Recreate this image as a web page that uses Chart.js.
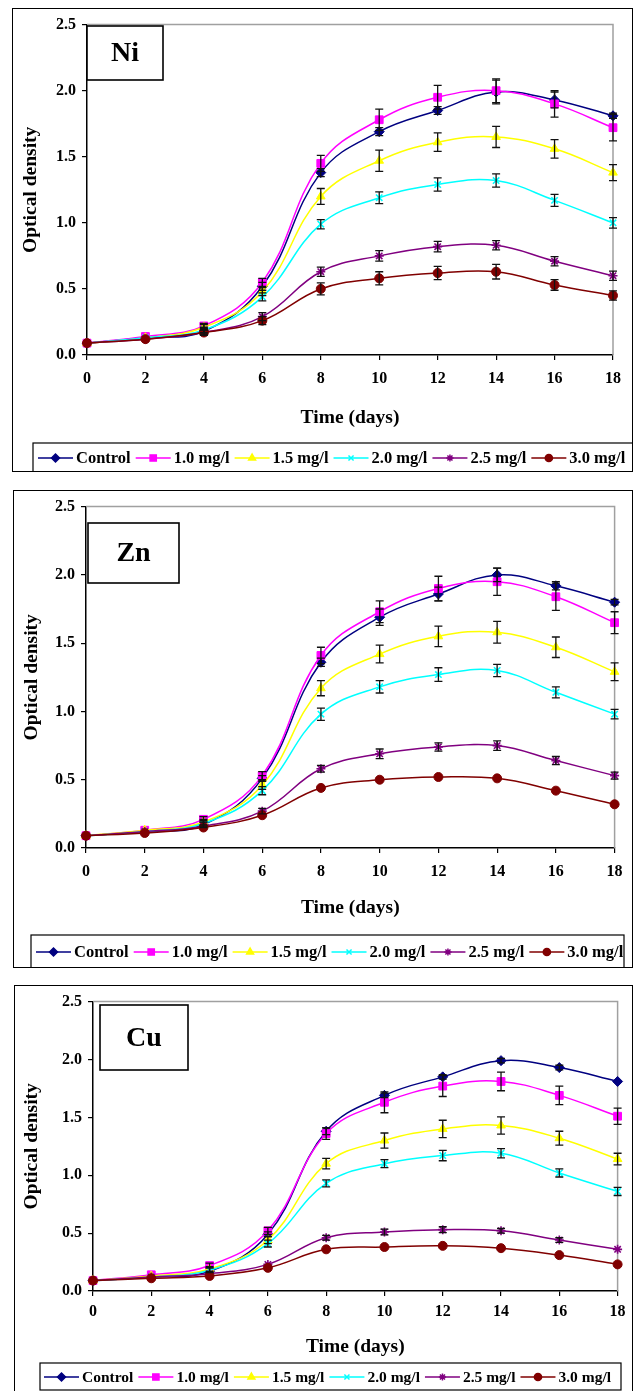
<!DOCTYPE html>
<html>
<head>
<meta charset="utf-8">
<script src="https://cdn.jsdelivr.net/npm/chart.js@4.4.1/dist/chart.umd.min.js"></script>
<style>
    body { margin: 0; background: #fff; width: 633px; height: 1391px; position: relative; overflow: hidden; }
    .panel { position: absolute; border: 1px solid #000; box-sizing: border-box; background: #fff; overflow: hidden; }
    .panel canvas { position: absolute; left: 0; top: 0; }
</style>
</head>
<body>
<div class="panel" id="p-ni"><canvas id="c-ni"></canvas></div>
<div class="panel" id="p-zn"><canvas id="c-zn"></canvas></div>
<div class="panel" id="p-cu"><canvas id="c-cu"></canvas></div>
<script>
// sampling days and series names
const days = [0, 2, 4, 6, 8, 10, 12, 14, 16, 18];
const seriesNames = ['Control', '1.0 mg/l', '1.5 mg/l', '2.0 mg/l', '2.5 mg/l', '3.0 mg/l'];

// Ni
const niControl = [0.09, 0.13, 0.18, 0.52, 1.38, 1.69, 1.85, 1.99, 1.93, 1.81];
const ni10 = [0.09, 0.14, 0.22, 0.55, 1.45, 1.78, 1.95, 2.00, 1.90, 1.72];
const ni15 = [0.09, 0.13, 0.21, 0.48, 1.20, 1.47, 1.61, 1.65, 1.56, 1.38];
const ni20 = [0.09, 0.13, 0.19, 0.44, 0.99, 1.19, 1.29, 1.32, 1.17, 1.00];
const ni25 = [0.09, 0.12, 0.17, 0.29, 0.63, 0.75, 0.82, 0.83, 0.71, 0.60];
const ni30 = [0.09, 0.12, 0.17, 0.26, 0.50, 0.58, 0.62, 0.63, 0.53, 0.45];
const niControlErr = [0.01, 0.01, 0.02, 0.03, 0.03, 0.03, 0.03, 0.09, 0.06, 0.02];
const ni10Err = [0.01, 0.01, 0.02, 0.03, 0.06, 0.08, 0.09, 0.09, 0.10, 0.10];
const ni15Err = [0.01, 0.01, 0.02, 0.03, 0.06, 0.08, 0.07, 0.08, 0.07, 0.06];
const ni20Err = [0.01, 0.01, 0.02, 0.03, 0.035, 0.045, 0.05, 0.05, 0.045, 0.04];
const ni25Err = [0.01, 0.01, 0.02, 0.03, 0.035, 0.04, 0.04, 0.035, 0.035, 0.035];
const ni30Err = [0.01, 0.01, 0.02, 0.03, 0.045, 0.05, 0.05, 0.055, 0.04, 0.035];

// Zn
const znControl = [0.09, 0.12, 0.17, 0.51, 1.36, 1.69, 1.86, 2.00, 1.92, 1.80];
const zn10 = [0.09, 0.13, 0.21, 0.53, 1.41, 1.73, 1.90, 1.95, 1.84, 1.65];
const zn15 = [0.09, 0.13, 0.19, 0.46, 1.17, 1.42, 1.55, 1.58, 1.47, 1.29];
const zn20 = [0.09, 0.12, 0.18, 0.42, 0.98, 1.18, 1.27, 1.30, 1.14, 0.98];
const zn25 = [0.09, 0.12, 0.16, 0.27, 0.58, 0.69, 0.74, 0.75, 0.64, 0.53];
const zn30 = [0.09, 0.11, 0.15, 0.24, 0.44, 0.50, 0.52, 0.51, 0.42, 0.32];
const znControlErr = [0.01, 0.01, 0.02, 0.02, 0.03, 0.06, 0.05, 0.05, 0.03, 0.02];
const zn10Err = [0.01, 0.01, 0.02, 0.03, 0.06, 0.08, 0.09, 0.10, 0.10, 0.08];
const zn15Err = [0.01, 0.01, 0.02, 0.03, 0.055, 0.065, 0.075, 0.08, 0.075, 0.065];
const zn20Err = [0.01, 0.01, 0.02, 0.03, 0.045, 0.045, 0.05, 0.045, 0.04, 0.035];
const zn25Err = [0.01, 0.01, 0.01, 0.02, 0.025, 0.035, 0.03, 0.035, 0.03, 0.025];
const zn30Err = [0.005, 0.005, 0.005, 0.01, 0.01, 0.01, 0.01, 0.01, 0.01, 0.01];

// Cu
const cuControl = [0.09, 0.12, 0.17, 0.49, 1.38, 1.69, 1.85, 1.99, 1.93, 1.81];
const cu10 = [0.09, 0.14, 0.22, 0.52, 1.36, 1.63, 1.77, 1.81, 1.69, 1.51];
const cu15 = [0.09, 0.13, 0.19, 0.44, 1.10, 1.30, 1.40, 1.43, 1.32, 1.14];
const cu20 = [0.09, 0.12, 0.18, 0.41, 0.93, 1.10, 1.17, 1.19, 1.02, 0.86];
const cu25 = [0.09, 0.12, 0.15, 0.23, 0.46, 0.51, 0.53, 0.52, 0.44, 0.36];
const cu30 = [0.09, 0.11, 0.13, 0.20, 0.36, 0.38, 0.39, 0.37, 0.31, 0.23];
const cuControlErr = [0.01, 0.01, 0.01, 0.02, 0.03, 0.02, 0.02, 0.02, 0.02, 0.01];
const cu10Err = [0.01, 0.01, 0.02, 0.03, 0.05, 0.09, 0.09, 0.08, 0.08, 0.07];
const cu15Err = [0.01, 0.01, 0.02, 0.03, 0.045, 0.065, 0.075, 0.075, 0.06, 0.05];
const cu20Err = [0.01, 0.01, 0.02, 0.03, 0.03, 0.035, 0.045, 0.04, 0.035, 0.035];
const cu25Err = [0.01, 0.01, 0.01, 0.015, 0.02, 0.025, 0.025, 0.02, 0.02, 0.01];
const cu30Err = [0.005, 0.005, 0.005, 0.01, 0.01, 0.01, 0.01, 0.01, 0.01, 0.01];

// styles
const colors = ['#000080', '#ff00ff', '#ffff00', '#00ffff', '#800080', '#800000'];
const markers = ['rectRot', 'rect', 'triangle', 'crossRot', 'star', 'circle'];
const markerSizes = [5, 5.5, 5, 4.5, 4.5, 4.5];
const FONT = "'Liberation Serif', 'Times New Roman', serif";
const TITLE_SIZE = 19.5;
const TICK_SIZE = 16;

// page layout of the three boxes (page pixels)
const panels = [
    {
        id: 'ni', metal: 'Ni',
        series: [niControl, ni10, ni15, ni20, ni25, ni30],
        errors: [niControlErr, ni10Err, ni15Err, ni20Err, ni25Err, ni30Err],
        box: { l: 12, t: 8, r: 632, b: 471 },
        plot: { l: 87, t: 23, r: 613, b: 355 },
        yTitleX: 31, xTitleY: 418, xLabelY: 379,
        tag: { l: 87, t: 26, r: 163, b: 80 },
        legend: { l: 33, t: 443, r: 640, b: 480, y: 458, x: 38, size: 16.5 }
    },
    {
        id: 'zn', metal: 'Zn',
        series: [znControl, zn10, zn15, zn20, zn25, zn30],
        errors: [znControlErr, zn10Err, zn15Err, zn20Err, zn25Err, zn30Err],
        box: { l: 13, t: 490, r: 632, b: 967 },
        plot: { l: 86, t: 504, r: 619, b: 848 },
        yTitleX: 32, xTitleY: 908, xLabelY: 872,
        tag: { l: 88, t: 523, r: 179, b: 583 },
        legend: { l: 31, t: 935, r: 624, b: 980, y: 952, x: 36, size: 16.5 }
    },
    {
        id: 'cu', metal: 'Cu',
        series: [cuControl, cu10, cu15, cu20, cu25, cu30],
        errors: [cuControlErr, cu10Err, cu15Err, cu20Err, cu25Err, cu30Err],
        box: { l: 14, t: 985, r: 632, b: 1391 },
        plot: { l: 93, t: 998, r: 618, b: 1291 },
        yTitleX: 32, xTitleY: 1347, xLabelY: 1312,
        tag: { l: 100, t: 1005, r: 188, b: 1070 },
        legend: { l: 40, t: 1363, r: 621, b: 1390, y: 1377, x: 44, size: 15.5 }
    }
];

const errorBars = {
    id: 'errorBars',
    afterDatasetsDraw(chart) {
        const ctx = chart.ctx;
        const xs = chart.scales.x, ys = chart.scales.y;
        ctx.save();
        ctx.strokeStyle = '#111';
        ctx.lineWidth = 1.3;
        chart.data.datasets.forEach(ds => {
            ds.data.forEach((p, i) => {
                const e = ds.errors[i];
                const x = xs.getPixelForValue(p.x);
                const yTop = ys.getPixelForValue(p.y + e);
                const yBot = ys.getPixelForValue(p.y - e);
                if (yBot - yTop < 4) return;
                ctx.beginPath();
                ctx.moveTo(x, yTop); ctx.lineTo(x, yBot);
                ctx.moveTo(x - 4, yTop); ctx.lineTo(x + 4, yTop);
                ctx.moveTo(x - 4, yBot); ctx.lineTo(x + 4, yBot);
                ctx.stroke();
            });
        });
        ctx.restore();
    }
};

const frame = {
    id: 'frame',
    beforeDatasetsDraw(chart) {
        const { left, top, right, bottom } = chart.chartArea;
        const ctx = chart.ctx;
        ctx.save();
        ctx.strokeStyle = '#a0a0a0';
        ctx.lineWidth = 1.5;
        ctx.beginPath();
        ctx.moveTo(left, top); ctx.lineTo(right, top); ctx.lineTo(right, bottom);
        ctx.stroke();
        ctx.restore();
    },
    afterDraw(chart, args, opts) {
        const ctx = chart.ctx;
        const off = opts.offset;
        ctx.save();

        // metal tag
        const t = opts.tag;
        ctx.fillStyle = '#fff';
        ctx.strokeStyle = '#000';
        ctx.lineWidth = 1.6;
        ctx.fillRect(t.l - off.x, t.t - off.y, t.r - t.l, t.b - t.t);
        ctx.strokeRect(t.l - off.x, t.t - off.y, t.r - t.l, t.b - t.t);
        ctx.fillStyle = '#000';
        ctx.font = 'bold 28px ' + FONT;
        ctx.textAlign = 'center';
        ctx.textBaseline = 'middle';
        ctx.fillText(opts.metal, (t.l + t.r) / 2 - off.x, (t.t + t.b) / 2 - off.y + 1);

        // legend
        const lg = opts.legend;
        const bx = lg.l - off.x, by = lg.t - off.y, bw = lg.r - lg.l, bh = lg.b - lg.t;
        ctx.lineWidth = 1.2;
        ctx.strokeRect(bx, by, bw, bh);
        ctx.beginPath();
        ctx.rect(bx, by, bw, bh);
        ctx.clip();
        ctx.font = 'bold ' + lg.size + 'px ' + FONT;
        ctx.textAlign = 'left';
        let x = lg.x - off.x;
        const y = lg.y - off.y;
        chart.data.datasets.slice().sort((a, b) => a.idx - b.idx).forEach(ds => {
            ctx.strokeStyle = ds.borderColor;
            ctx.fillStyle = ds.borderColor;
            ctx.lineWidth = 1.5;
            ctx.beginPath();
            ctx.moveTo(x, y); ctx.lineTo(x + 35, y);
            ctx.stroke();
            Chart.helpers.drawPoint(ctx, {
                pointStyle: ds.pointStyle, radius: ds.pointRadius * 0.8, rotation: 0, borderWidth: 1.2
            }, x + 17.5, y);
            ctx.fillStyle = '#000';
            ctx.fillText(ds.label, x + 38, y + 1);
            x += 38 + ctx.measureText(ds.label).width + 5;
        });
        ctx.restore();
    }
};

panels.forEach(p => {
    const div = document.getElementById('p-' + p.id);
    div.style.left = p.box.l + 'px';
    div.style.top = p.box.t + 'px';
    div.style.width = (p.box.r - p.box.l + 1) + 'px';
    div.style.height = (p.box.b - p.box.t + 1) + 'px';

    const c = { x: p.box.l + 1, y: p.box.t + 1, w: p.box.r - p.box.l - 1, h: p.box.b - p.box.t - 1 };
    const canvas = document.getElementById('c-' + p.id);
    canvas.width = c.w;
    canvas.height = c.h;
    canvas.style.width = c.w + 'px';
    canvas.style.height = c.h + 'px';

    const lh = TITLE_SIZE * 1.2;
    const yScaleLeft = p.yTitleX - lh / 2 - c.x;
    const xScaleBottom = p.xTitleY + lh / 2 - c.y;
    const plotL = p.plot.l - c.x, plotT = p.plot.t - c.y;
    const plotR = p.plot.r - c.x, plotB = p.plot.b - c.y;
    const xPad = (p.xLabelY - p.plot.b) - 5 - TICK_SIZE * 0.6;

    const datasets = p.series.map((vals, k) => ({
        label: seriesNames[k],
        idx: k,
        order: 6 - k,
        data: days.map((d, i) => ({ x: d, y: vals[i] })),
        errors: p.errors[k],
        borderColor: colors[k],
        backgroundColor: colors[k],
        pointBackgroundColor: colors[k],
        pointBorderColor: colors[k],
        borderWidth: 1.5,
        pointStyle: markers[k],
        pointRadius: markerSizes[k],
        pointBorderWidth: (markers[k] === 'crossRot' || markers[k] === 'star') ? 1.6 : 1,
        tension: 0.4,
        clip: false
    }));

    new Chart(canvas, {
        type: 'line',
        data: { datasets },
        plugins: [frame, errorBars],
        options: {
            responsive: false,
            animation: false,
            events: [],
            layout: {
                padding: { left: yScaleLeft, top: plotT, right: c.w - plotR, bottom: c.h - xScaleBottom }
            },
            scales: {
                x: {
                    type: 'linear', min: 0, max: 18,
                    afterFit: s => { s.height = xScaleBottom - plotB; },
                    ticks: { stepSize: 2, color: '#000', padding: xPad, font: { family: FONT, size: TICK_SIZE, weight: 'bold' } },
                    grid: { drawOnChartArea: false, tickLength: 5, color: '#000', lineWidth: 1.2 },
                    border: { color: '#000', width: 1.5 },
                    title: { display: true, text: 'Time (days)', color: '#000', padding: 0, font: { family: FONT, size: TITLE_SIZE, weight: 'bold' } }
                },
                y: {
                    min: 0, max: 2.5,
                    afterFit: s => { s.width = plotL - yScaleLeft; },
                    ticks: { stepSize: 0.5, color: '#000', padding: 6, callback: v => v.toFixed(1), font: { family: FONT, size: TICK_SIZE, weight: 'bold' } },
                    grid: { drawOnChartArea: false, tickLength: 5, color: '#000', lineWidth: 1.2 },
                    border: { color: '#000', width: 1.5 },
                    title: { display: true, text: 'Optical density', color: '#000', padding: 0, font: { family: FONT, size: TITLE_SIZE, weight: 'bold' } }
                }
            },
            plugins: {
                legend: { display: false },
                tooltip: { enabled: false },
                frame: { offset: c, tag: p.tag, metal: p.metal, legend: p.legend }
            }
        }
    });
});
</script>
</body>
</html>
